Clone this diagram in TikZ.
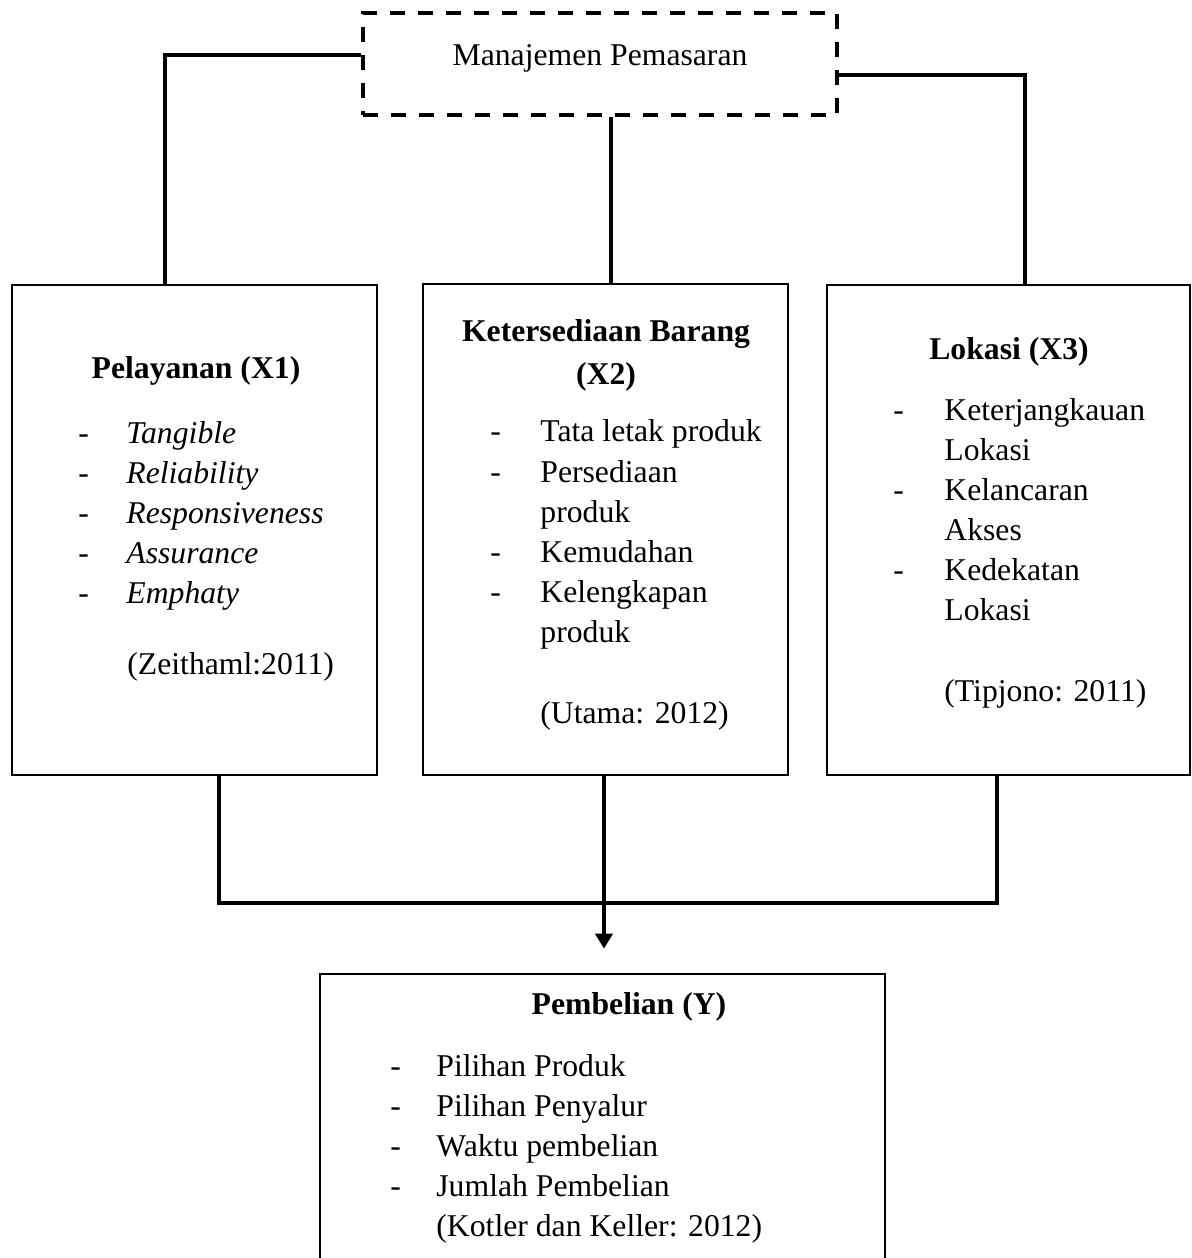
\documentclass[tikz,border=0pt]{standalone}
\usepackage{fontspec}
\setmainfont{Liberation Serif}
\usetikzlibrary{arrows.meta}
\tikzset{
  box/.style={draw, line width=1.35pt, rectangle, inner sep=0pt},
  dbox/.style={draw, line width=2pt, dash pattern=on 7.5pt off 6.5pt, rectangle, inner sep=0pt},
  conn/.style={line width=1.9pt, line join=miter},
  txt/.style={anchor=base west, inner sep=0pt, font=\fontsize{15.85pt}{20pt}\selectfont},
  ttl/.style={anchor=base, inner sep=0pt, font=\fontsize{15.85pt}{20pt}\selectfont\bfseries},
}
\newcommand\litem[5]{\node[txt] (#1d) at (#2,#4) {-}; \node[txt] (#1) at (#3,#4) {#5};}
\begin{document}
\begin{tikzpicture}[x=0.5pt,y=-0.5pt]
\useasboundingbox (0,0) rectangle (1192,1258);
\clip (0,0) rectangle (1192,1258);
\fill[white] (0,0) rectangle (1192,1258);

% boxes
\node[dbox, minimum width=237pt, minimum height=51pt] (m) at (600,64) {};
\node[box, minimum width=182.5pt, minimum height=245pt] (b1) at (194.5,530) {};
\node[box, minimum width=182.5pt, minimum height=245.5pt] (b2) at (605.5,529.5) {};
\node[box, minimum width=181.5pt, minimum height=245pt] (b3) at (1008.5,530) {};
\node[box, minimum width=282.5pt, minimum height=163pt] (by) at (602.5,1137) {};

% top text
\node[txt, anchor=base] (mt) at (600,65) {Manajemen Pemasaran};

% box 1
\node[ttl] (t1) at (196,378) {Pelayanan (X1)};
\litem{a1}{78}{126}{443}{\itshape Tangible}
\litem{a2}{78}{126}{483}{\itshape Reliability}
\litem{a3}{78}{126}{523}{\itshape Responsiveness}
\litem{a4}{78}{126}{563}{\itshape Assurance}
\litem{a5}{78}{126}{603}{\itshape Emphaty}
\node[txt] (a6) at (127,674) {(Zeithaml:2011)};

% box 2
\node[ttl] (t2) at (606,341) {Ketersediaan Barang};
\node[ttl] (t2b) at (606,384) {(X2)};
\litem{c1}{490}{540}{441}{Tata letak produk}
\litem{c2}{490}{540}{482}{Persediaan}
\node[txt] (c2b) at (540,522) {produk};
\litem{c3}{490}{540}{562}{Kemudahan}
\litem{c4}{490}{540}{602}{Kelengkapan}
\node[txt] (c4b) at (540,642) {produk};
\node[txt] (c5) at (540,723) {(Utama: 2012)};

% box 3
\node[ttl] (t3) at (1009,359) {Lokasi (X3)};
\litem{e1}{893}{944}{420}{Keterjangkauan}
\node[txt] (e1b) at (944,460) {Lokasi};
\litem{e2}{893}{944}{500}{Kelancaran}
\node[txt] (e2b) at (944,540) {Akses};
\litem{e3}{893}{944}{580}{Kedekatan}
\node[txt] (e3b) at (944,620) {Lokasi};
\node[txt] (e4) at (944,701) {(Tipjono: 2011)};

% box Y
\node[ttl] (ty) at (629,1014) {Pembelian (Y)};
\litem{y1}{390}{436}{1076}{Pilihan Produk}
\litem{y2}{390}{436}{1116}{Pilihan Penyalur}
\litem{y3}{390}{436}{1156}{Waktu pembelian}
\litem{y4}{390}{436}{1196}{Jumlah Pembelian}
\node[txt] (y5) at (436,1236) {(Kotler dan Keller: 2012)};

% connectors
\draw[conn] (m.west |- 0,55) -- (165,55) -- (b1.north -| 165,0);
\draw[conn] (m.east |- 0,75) -- (1025,75) -- (b3.north -| 1025,0);
\draw[conn] (m.south -| 611,0) -- (b2.north -| 611,0);
\draw[conn] (b1.south -| 219,0) -- (219,903) -- (997,903) -- (b3.south -| 997,0);
\draw[conn, -{Triangle[length=7.5pt,width=8.5pt]}, shorten >=12pt] (b2.south -| 604,0) -- (by.north -| 604,0);
\end{tikzpicture}
\end{document}
